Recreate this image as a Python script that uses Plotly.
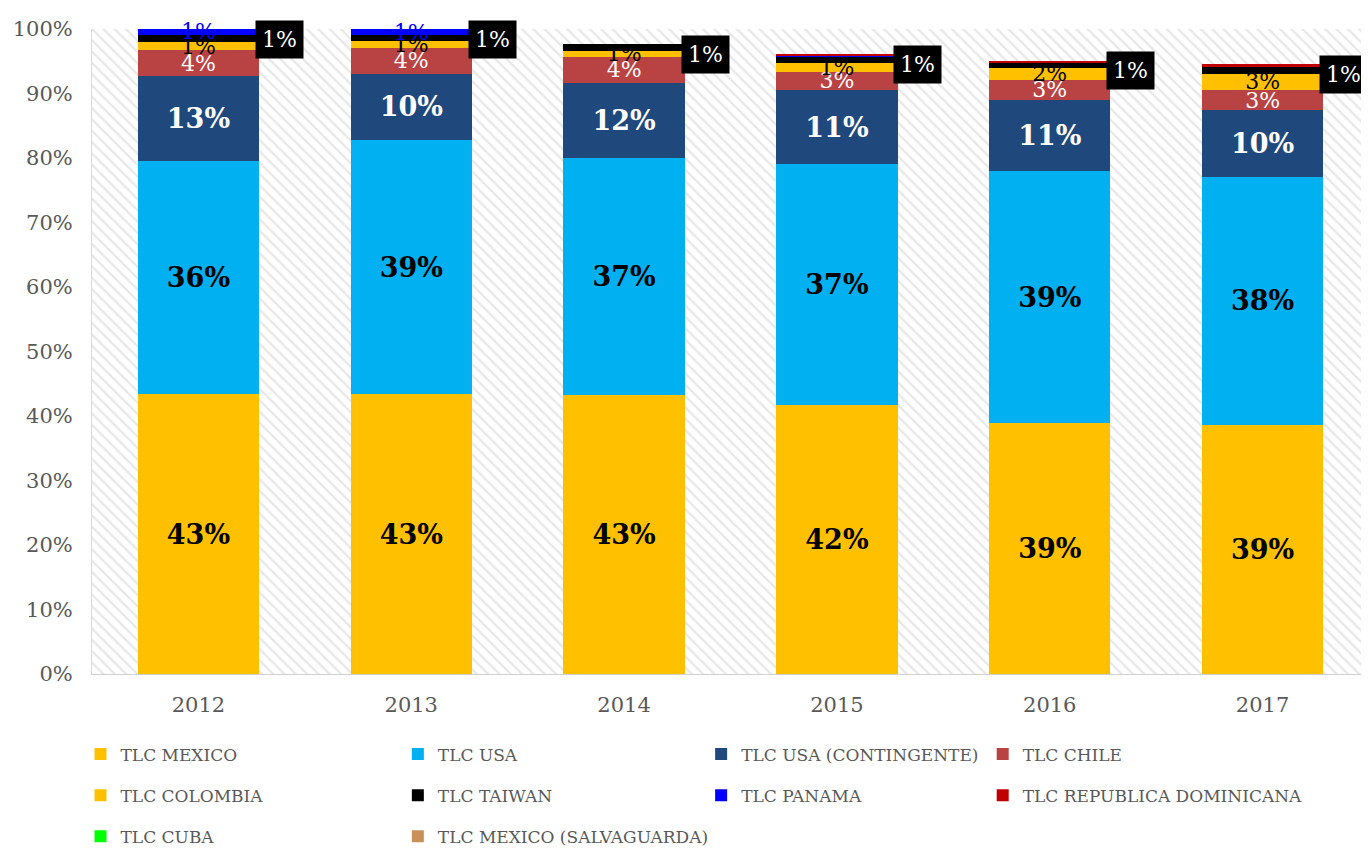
import plotly.graph_objects as go

years = ["2012", "2013", "2014", "2015", "2016", "2017"]

series_names = ["TLC MEXICO", "TLC USA", "TLC USA (CONTINGENTE)", "TLC CHILE",
                "TLC COLOMBIA", "TLC TAIWAN", "TLC PANAMA", "TLC REPUBLICA DOMINICANA",
                "TLC CUBA", "TLC MEXICO (SALVAGUARDA)"]

mexico      = [43.4, 43.4, 43.3, 41.7, 38.9, 38.6]
usa         = [36.1, 39.4, 36.7, 37.4, 39.1, 38.5]
contingente = [13.2, 10.3, 11.6, 11.4, 11.0, 10.3]
chile       = [4.0, 3.9, 4.1, 2.9, 3.1, 3.1]
colombia    = [1.3, 1.1, 0.9, 1.4, 1.9, 2.6]
taiwan      = [1.1, 0.9, 1.0, 0.9, 0.8, 1.1]
panama      = [0.9, 1.0, 0.0, 0.2, 0.0, 0.0]
dominicana  = [0.0, 0.0, 0.0, 0.1, 0.3, 0.3]
cuba        = [0.0, 0.0, 0.0, 0.0, 0.0, 0.0]
salvaguarda = [0.0, 0.0, 0.0, 0.0, 0.0, 0.0]
box_labels  = ["1%", "1%", "1%", "1%", "1%", "1%"]

values = [mexico, usa, contingente, chile, colombia, taiwan, panama, dominicana, cuba, salvaguarda]
colors = ["#FFC000", "#00B0F0", "#1F497D", "#B94343", "#FFC000", "#000000",
          "#0000FF", "#C00000", "#00FF00", "#C9905A"]

SERIF = "DejaVu Serif"
label_style = {
    "TLC MEXICO": dict(color="black", size=27, bold=True),
    "TLC USA": dict(color="black", size=27, bold=True),
    "TLC USA (CONTINGENTE)": dict(color="white", size=27, bold=True),
    "TLC CHILE": dict(color="white", size=22, bold=False),
    "TLC COLOMBIA": dict(color="black", size=22, bold=False),
    "TLC PANAMA": dict(color="#0000FF", size=22, bold=False),
}

legend_of = {
    "TLC MEXICO": "legend", "TLC COLOMBIA": "legend", "TLC CUBA": "legend",
    "TLC USA": "legend2", "TLC TAIWAN": "legend2", "TLC MEXICO (SALVAGUARDA)": "legend2",
    "TLC USA (CONTINGENTE)": "legend3", "TLC PANAMA": "legend3",
    "TLC CHILE": "legend4", "TLC REPUBLICA DOMINICANA": "legend4",
}

fig = go.Figure()

# hatched plot-area background
fig.add_trace(go.Bar(
    x=[0.5], y=[100], width=[1], xaxis="x", yaxis="y",
    marker=dict(color="white", line=dict(width=0),
                pattern=dict(shape="\\", fgcolor="#D2D2D2", bgcolor="white", size=8, solidity=0.3)),
    showlegend=False, hoverinfo="skip"))

for name, vals, col in zip(series_names, values, colors):
    st = label_style.get(name)
    if st:
        txt = [f"{round(v)}%" if v >= 0.5 else "" for v in vals]
        tf = dict(family=SERIF, color=st["color"], size=st["size"],
                  weight="bold" if st["bold"] else "normal")
    else:
        txt = None
        tf = None
    fig.add_trace(go.Bar(
        name=name, x=years, y=vals, xaxis="x2", yaxis="y2",
        marker=dict(color=col, line=dict(width=0)),
        text=txt, textposition="inside", insidetextanchor="middle",
        textangle=0, constraintext="none", textfont=tf, cliponaxis=False,
        legend=legend_of[name], legendgroup=name,
    ))

totals = [sum(v[i] for v in values) for i in range(len(years))]
for i, (tot, lab) in enumerate(zip(totals, box_labels)):
    fig.add_annotation(x=i, y=tot, xref="x2", yref="y2", text=lab, showarrow=False,
                       xshift=81, yshift=-10, bgcolor="black",
                       font=dict(family=SERIF, size=22, color="white"),
                       borderpad=6)

leg_common = dict(orientation="v", yanchor="top", y=-0.097, xanchor="left",
                  tracegroupgap=16, font=dict(family=SERIF, size=17, color="#595959"),
                  bgcolor="rgba(0,0,0,0)", itemwidth=30, traceorder="grouped")

fig.update_layout(
    width=1369, height=854,
    margin=dict(l=84, r=8, t=21, b=188, autoexpand=False),
    paper_bgcolor="white", plot_bgcolor="white",
    barmode="stack", bargap=0.43,
    showlegend=True,
    xaxis=dict(range=[0, 1], visible=False, fixedrange=True),
    yaxis=dict(range=[0, 100], visible=False),
    xaxis2=dict(overlaying="x", anchor="y2", side="bottom", type="category",
                range=[-0.5, 5.5], automargin=False,
                showline=True, linecolor="#D0D0D0", linewidth=1, ticks="",
                tickfont=dict(family=SERIF, size=21, color="#595959"),
                ticklabelstandoff=12, showgrid=False),
    yaxis2=dict(overlaying="y", anchor="x2", range=[0, 100], dtick=10, automargin=False,
                ticksuffix="%", showgrid=False, zeroline=False,
                showline=True, linecolor="#D9D9D9", linewidth=1,
                tickfont=dict(family=SERIF, size=21, color="#595959"),
                ticklabelstandoff=14),
    legend=dict(leg_common, x=-0.009),
    legend2=dict(leg_common, x=0.2395),
    legend3=dict(leg_common, x=0.477),
    legend4=dict(leg_common, x=0.6975),
)

fig.write_html("out.html")
